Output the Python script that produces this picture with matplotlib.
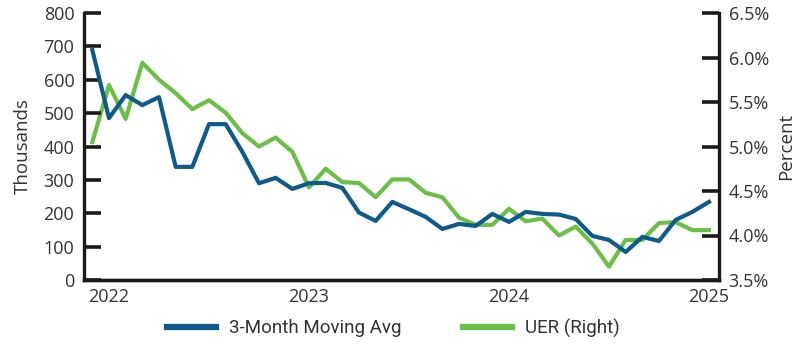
import matplotlib.pyplot as plt
from matplotlib.ticker import FuncFormatter

# monthly observations, Dec 2021 through Jan 2025
months = list(range(38))
moving_avg = [689, 485, 554, 524, 548, 339, 339, 467, 467, 384,
              290, 306, 273, 290, 291, 276, 202, 177, 234, 212,
              189, 153, 168, 162, 198, 174, 204, 198, 196, 183,
              132, 120, 84, 129, 117, 180, 204, 234]
uer = [5.05, 5.69, 5.31, 5.94, 5.75, 5.60, 5.42, 5.52, 5.38, 5.15,
       5.00, 5.10, 4.94, 4.54, 4.75, 4.60, 4.59, 4.43, 4.63, 4.63,
       4.48, 4.43, 4.20, 4.12, 4.12, 4.30, 4.16, 4.19, 4.00, 4.10,
       3.91, 3.65, 3.95, 3.95, 4.14, 4.15, 4.06, 4.06]
year_pos = [1, 13, 25, 37]
year_labels = ["2022", "2023", "2024", "2025"]

blue = "#0e5a8a"
green = "#6abf45"
txt = "#333333"
axis_col = "#1a1a1a"

plt.rcParams["font.family"] = ["Open Sans", "DejaVu Sans"]

fig = plt.figure(figsize=(8.03, 3.47), dpi=100)
ax = fig.add_axes([84 / 803, 1 - 280 / 347, (719 - 84) / 803, (280 - 13) / 347])
ax2 = ax.twinx()

ax.plot(months, moving_avg, color=blue, lw=3, zorder=3, label="3-Month Moving Avg")
ax2.plot(months, uer, color=green, lw=3, zorder=2, label="UER (Right)")
ax.set_zorder(ax2.get_zorder() + 1)
ax.patch.set_visible(False)

ax.set_xlim(-0.5, 37.6)
ax.set_ylim(0, 800)
ax2.set_ylim(3.5, 6.5)
ax.set_yticks(range(0, 801, 100))
ax2.set_yticks([3.5, 4.0, 4.5, 5.0, 5.5, 6.0, 6.5])
ax2.yaxis.set_major_formatter(FuncFormatter(lambda v, p: f"{v:.1f}%"))
ax.set_xticks(year_pos)
ax.set_xticklabels(year_labels)

for a in (ax, ax2):
    a.spines["top"].set_visible(False)
    for s in a.spines.values():
        s.set_linewidth(2.4)
        s.set_color(axis_col)
    a.tick_params(axis="y", direction="in", length=12, width=2.6, color=axis_col,
                  labelsize=13, labelcolor=txt, pad=7)
ax.tick_params(axis="x", length=0, labelsize=13, labelcolor=txt, pad=6)
ax2.spines["left"].set_visible(False)
ax.spines["right"].set_visible(False)

ax.set_ylabel("Thousands", fontsize=13.5, color=txt, labelpad=8)
ax2.set_ylabel("Percent", fontsize=13.5, color=txt, labelpad=6)

h1, l1 = ax.get_legend_handles_labels()
h2, l2 = ax2.get_legend_handles_labels()
leg = fig.legend(h1 + h2, l1 + l2, loc="center", bbox_to_anchor=(0.49, 0.055),
                 ncol=2, frameon=False, prop={"family": "Roboto", "size": 13.5},
                 handlelength=2.6, columnspacing=3.3, handletextpad=0.7)
for line in leg.get_lines():
    line.set_linewidth(4.5)
for t in leg.get_texts():
    t.set_color(txt)

fig.savefig("out.png", dpi=100)
